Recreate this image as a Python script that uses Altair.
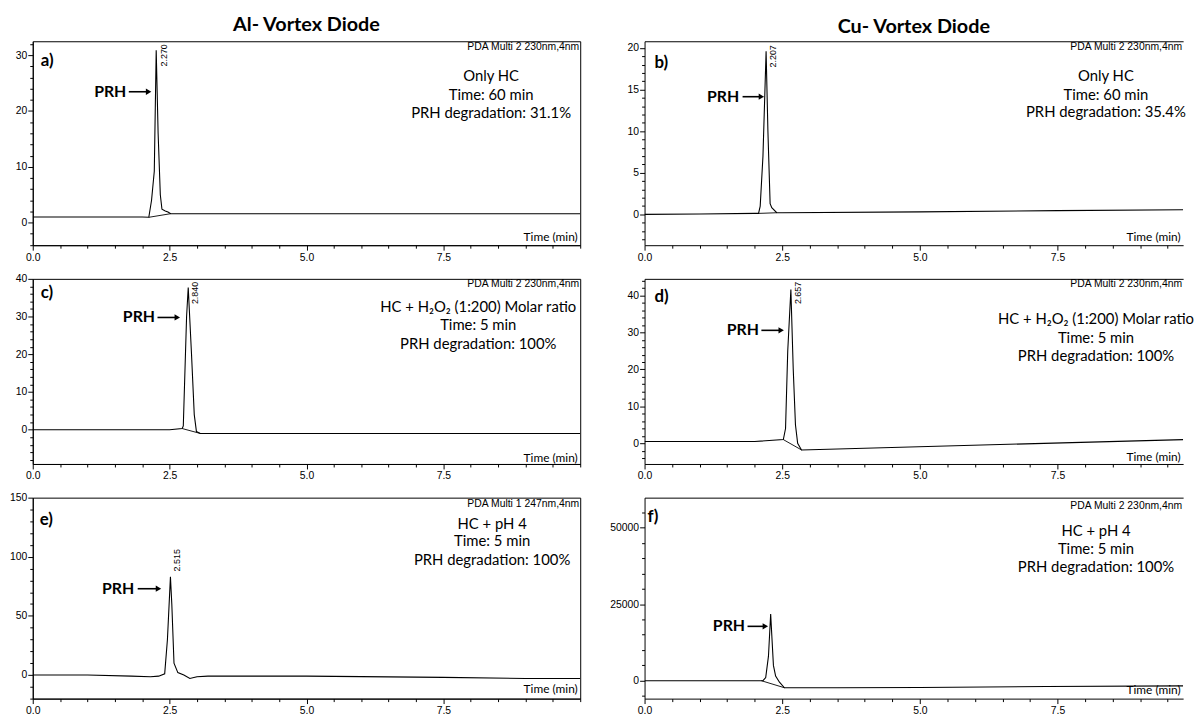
import json
import math
import altair as alt
import pandas as pd

# ---------------- values ----------------
col_titles = ["Al- Vortex Diode", "Cu- Vortex Diode"]
panel_letters = ["a)", "b)", "c)", "d)", "e)", "f)"]
detectors = ["PDA Multi 2 230nm,4nm", "PDA Multi 2 230nm,4nm",
             "PDA Multi 2 230nm,4nm", "PDA Multi 2 230nm,4nm",
             "PDA Multi 1 247nm,4nm", "PDA Multi 2 230nm,4nm"]
peak_labels = ["2.270", "2.207", "2.840", "2.657", "2.515", ""]
info_texts = [
    ["Only HC", "Time: 60 min", "PRH degradation: 31.1%"],
    ["Only HC", "Time: 60 min", "PRH degradation: 35.4%"],
    ["HC + H\u2082O\u2082 (1:200) Molar ratio", "Time: 5 min", "PRH degradation: 100%"],
    ["HC + H\u2082O\u2082 (1:200) Molar ratio", "Time: 5 min", "PRH degradation: 100%"],
    ["HC + pH 4", "Time: 5 min", "PRH degradation: 100%"],
    ["HC + pH 4", "Time: 5 min", "PRH degradation: 100%"],
]
compound = "PRH"
x_title = "Time (min)"

# a) Al, only HC
a_time = [0.0, 1.0, 2.0, 2.12, 2.17, 2.22, 2.255, 2.29, 2.33, 2.36, 2.42, 2.47, 2.52, 3.0, 5.0, 7.5, 10.0]
a_int = [1.0, 1.0, 1.0, 0.95, 4.0, 9.2, 30.9, 16.0, 5.0, 2.4, 2.1, 1.9, 1.6, 1.6, 1.6, 1.6, 1.6]
a_base_time = [2.12, 2.52]
a_base_int = [0.95, 1.6]
# b) Cu, only HC
b_time = [0.0, 1.0, 2.0, 2.07, 2.10, 2.15, 2.207, 2.24, 2.28, 2.31, 2.40, 2.5, 5.0, 7.5, 9.78]
b_int = [0.0, 0.05, 0.12, 0.12, 1.0, 7.0, 19.6, 10.0, 1.3, 0.8, 0.2, 0.2, 0.3, 0.45, 0.55]
b_base_time = [2.07, 2.40]
b_base_int = [0.12, 0.2]
# c) Al, HC + H2O2
c_time = [0.0, 1.0, 2.0, 2.5, 2.73, 2.75, 2.81, 2.84, 2.90, 2.95, 2.99, 3.06, 5.0, 7.5, 10.0]
c_int = [0.0, 0.0, 0.0, 0.0, 0.3, 1.0, 30.0, 37.7, 20.0, 4.0, -0.5, -1.0, -1.0, -1.0, -1.0]
c_base_time = [2.73, 3.06]
c_base_int = [0.3, -1.0]
# d) Cu, HC + H2O2
d_time = [0.0, 1.0, 2.0, 2.52, 2.56, 2.60, 2.657, 2.70, 2.74, 2.78, 2.85, 9.78]
d_int = [0.5, 0.5, 0.5, 1.0, 4.0, 25.0, 41.6, 20.0, 5.0, 0.0, -1.8, 1.0]
d_base_time = [2.52, 2.85]
d_base_int = [1.0, -1.8]
# e) Al, HC + pH 4
e_time = [0.0, 1.0, 1.8, 2.15, 2.30, 2.41, 2.46, 2.515, 2.54, 2.58, 2.65, 2.76, 2.87, 3.0, 3.2, 5.0, 7.5, 9.0, 10.0]
e_int = [0.0, 0.0, -1.0, -1.5, -1.0, 1.0, 30.0, 83.0, 60.0, 10.0, 2.0, 0.0, -3.0, -1.5, -1.0, -1.0, -2.0, -3.0, -3.0]
e_base_time = []
e_base_int = []
# f) Cu, HC + pH 4
f_time = [0.0, 1.0, 2.0, 2.15, 2.20, 2.25, 2.29, 2.31, 2.34, 2.38, 2.45, 2.54, 3.5, 5.0, 7.3, 9.78]
f_int = [0, 0, 0, 0, 1000, 8000, 21750, 15000, 5000, 1500, -500, -2300, -2300, -2200, -1900, -1700]
f_base_time = [2.12, 2.54]
f_base_int = [0, -2300]

x_major_ticks = [0.0, 2.5, 5.0, 7.5]
x_minor_step = 0.5
a_y_ticks = [0, 10, 20, 30]
b_y_ticks = [0, 5, 10, 15, 20]
c_y_ticks = [0, 10, 20, 30, 40]
d_y_ticks = [0, 10, 20, 30, 40]
e_y_ticks = [0, 50, 100, 150]
f_y_ticks = [0, 25000, 50000]
y_minor_steps = [2, 1, 2, 2, 10, 5000]
y_domains = [[-4.05, 32.5], [-3.7, 20.8], [-9.1, 40], [-5.6, 44.5], [-20, 150], [-5850, 59750]]

# ---------------- layout / style ----------------
W_LEFT, W_RIGHT = 553, 544
X_DOM = {False: [0, 10.0], True: [0, 9.78]}
ROW_H = [206, 187, 203]
INFO_FONT = "Lato"

# relative pixel layout per panel
layouts = [
    dict(letter=(8, 20), prh=(62, 51), arrow=(97, 120), peak_y=3, info_x=463, info_y=[35, 54, 73], pda_y=6, time_y=-9),
    dict(letter=(10, 22), prh=(63, 56), arrow=(99, 121), peak_y=4, info_x=466, info_y=[35, 54, 72], pda_y=6, time_y=-9),
    dict(letter=(8, 14), prh=(91, 39), arrow=(126, 149), peak_y=3, info_x=450, info_y=[28, 47, 66], pda_y=5, time_y=-7),
    dict(letter=(10, 18), prh=(83, 52), arrow=(118, 141), peak_y=3, info_x=456, info_y=[41, 60, 78], pda_y=5, time_y=-8),
    dict(letter=(7, 23), prh=(70, 92), arrow=(106, 130), peak_y=52, info_x=464, info_y=[27, 44, 63], pda_y=6, time_y=-10),
    dict(letter=(3, 20), prh=(69, 130), arrow=(104, 125), peak_y=0, info_x=456, info_y=[34, 52, 70], pda_y=8, time_y=-9),
]

one = pd.DataFrame({"k": [0]})


def ticks_in(lo, hi, step):
    k0 = math.ceil(lo / step - 1e-9)
    k1 = math.floor(hi / step + 1e-9)
    return [round(k * step, 6) for k in range(k0, k1 + 1)]


def txt(text, x, y, **kw):
    return alt.Chart(one).mark_text(text=text, **kw).encode(x=alt.value(x), y=alt.value(y))


def panel(i, time, inten, base_t, base_v, y_major, right, title=None):
    W = W_RIGHT if right else W_LEFT
    H = ROW_H[i // 2]
    xdom = X_DOM[right]
    ydom = y_domains[i]
    lay = layouts[i]

    xt = ticks_in(xdom[0], xdom[1], x_minor_step)
    xm = "indexof(" + json.dumps(x_major_ticks) + ", datum.value) >= 0"
    yt = ticks_in(ydom[0], ydom[1], y_minor_steps[i])
    ym = "indexof(" + json.dumps(y_major) + ", datum.value) >= 0"

    xscale = alt.Scale(domain=xdom, nice=False, zero=False)
    yscale = alt.Scale(domain=ydom, nice=False, zero=False)

    x_axis = alt.Axis(
        values=xt, format=".1f", labelExpr=xm + " ? datum.label : ''",
        tickSize={"condition": {"test": xm, "value": 5}, "value": 3},
        labelPadding=2, labelFlush=False, labelOverlap=False,
        title=x_title, titleX=W - 3, titleY=lay["time_y"], titleAlign="right",
        titleBaseline="middle", titleFont=INFO_FONT, titleFontSize=12,
        titleFontWeight="normal", titleColor="black", titleAngle=0)
    y_axis = alt.Axis(
        values=yt, format="d", labelExpr=ym + " ? datum.label : ''",
        tickSize={"condition": {"test": ym, "value": 5}, "value": 3},
        labelPadding=1, labelFlush=False, labelOverlap=False, title="")

    def X():
        return alt.X("t:Q", scale=xscale, axis=x_axis)

    def Y():
        return alt.Y("v:Q", scale=yscale, axis=y_axis)

    df = pd.DataFrame({"t": time, "v": inten, "i": list(range(len(time)))})
    line = alt.Chart(df).mark_line(color="black", strokeWidth=1.1, clip=True).encode(
        x=X(), y=Y(), order=alt.Order("i:Q"))
    layers = [line]

    if base_t:
        bdf = pd.DataFrame({"t": base_t, "v": base_v})
        if right:
            bx = alt.X("t:Q", scale=xscale, axis=alt.Axis(orient="top", labels=False, ticks=False,
                                                         title="", domain=True, domainColor="black"))
        else:
            bx = X()
        layers.append(alt.Chart(bdf).mark_line(color="black", strokeWidth=0.9, clip=True).encode(
            x=bx, y=Y()))

    # panel letter
    layers.append(txt(panel_letters[i], lay["letter"][0], lay["letter"][1], font=INFO_FONT,
                      fontSize=17, fontWeight="bold", align="left", baseline="middle", color="black"))
    # detector text
    layers.append(txt(detectors[i], W - 1, lay["pda_y"], font="Liberation Sans", fontSize=10.5,
                      align="right", baseline="middle", color="black"))
    # info block
    for line_text, yy in zip(info_texts[i], lay["info_y"]):
        layers.append(txt(line_text, lay["info_x"], yy, font=INFO_FONT, fontSize=15,
                          align="center", baseline="middle", color="black"))
    # PRH arrow
    px, py = lay["prh"]
    layers.append(txt(compound, px, py, font=INFO_FONT, fontSize=16, fontWeight="bold",
                      align="left", baseline="middle", color="black"))
    x1, x2 = lay["arrow"]
    layers.append(alt.Chart(one).mark_rule(color="black", strokeWidth=1.6).encode(
        x=alt.value(x1), x2=alt.value(x2 - 3), y=alt.value(py)))
    layers.append(alt.Chart(one).mark_point(shape="triangle-right", filled=True, color="black",
                                            opacity=1, size=40, strokeWidth=0).encode(
        x=alt.value(x2 - 3), y=alt.value(py)))
    # peak label
    if peak_labels[i]:
        if right:
            pxd = alt.XDatum(datum=float(peak_labels[i]), type="quantitative", scale=xscale, axis=None)
        else:
            pxd = alt.XDatum(datum=float(peak_labels[i]), type="quantitative", scale=xscale, axis=x_axis)
        layers.append(alt.Chart(one).mark_text(
            text=peak_labels[i], angle=270, align="right", baseline="top", dy=3,
            font="Liberation Sans", fontSize=9, color="black").encode(
            x=pxd, y=alt.value(lay["peak_y"])))

    ch = alt.layer(*layers).properties(width=W, height=H)
    if right:
        ch = ch.resolve_axis(x="independent").properties(
            view=alt.ViewBackground(stroke="transparent"))
    if title:
        ch = ch.properties(title=alt.TitleParams(title, font=INFO_FONT, fontSize=20, fontWeight="bold",
                                                 anchor="middle", offset=4, color="black"))
    return ch


pa = panel(0, a_time, a_int, a_base_time, a_base_int, a_y_ticks, False, col_titles[0])
pb = panel(1, b_time, b_int, b_base_time, b_base_int, b_y_ticks, True, col_titles[1])
pc = panel(2, c_time, c_int, c_base_time, c_base_int, c_y_ticks, False)
pdd = panel(3, d_time, d_int, d_base_time, d_base_int, d_y_ticks, True)
pe = panel(4, e_time, e_int, e_base_time, e_base_int, e_y_ticks, False)
pf = panel(5, f_time, f_int, f_base_time, f_base_int, f_y_ticks, True)

chart = alt.concat(pa, pb, pc, pdd, pe, pf, columns=2,
                   spacing={"row": 34, "column": 65}, bounds="flush", align="each").properties(
    padding={"top": 3, "left": 0, "right": 0, "bottom": 0}
).configure_view(stroke="black", strokeWidth=1).configure_axis(
    labelFont="Liberation Sans", labelFontSize=10.5, labelColor="black",
    domainColor="black", tickColor="black", domainWidth=1, tickWidth=1, grid=False
)

chart.save("out.html", embed_options={"renderer": "svg", "actions": False})
